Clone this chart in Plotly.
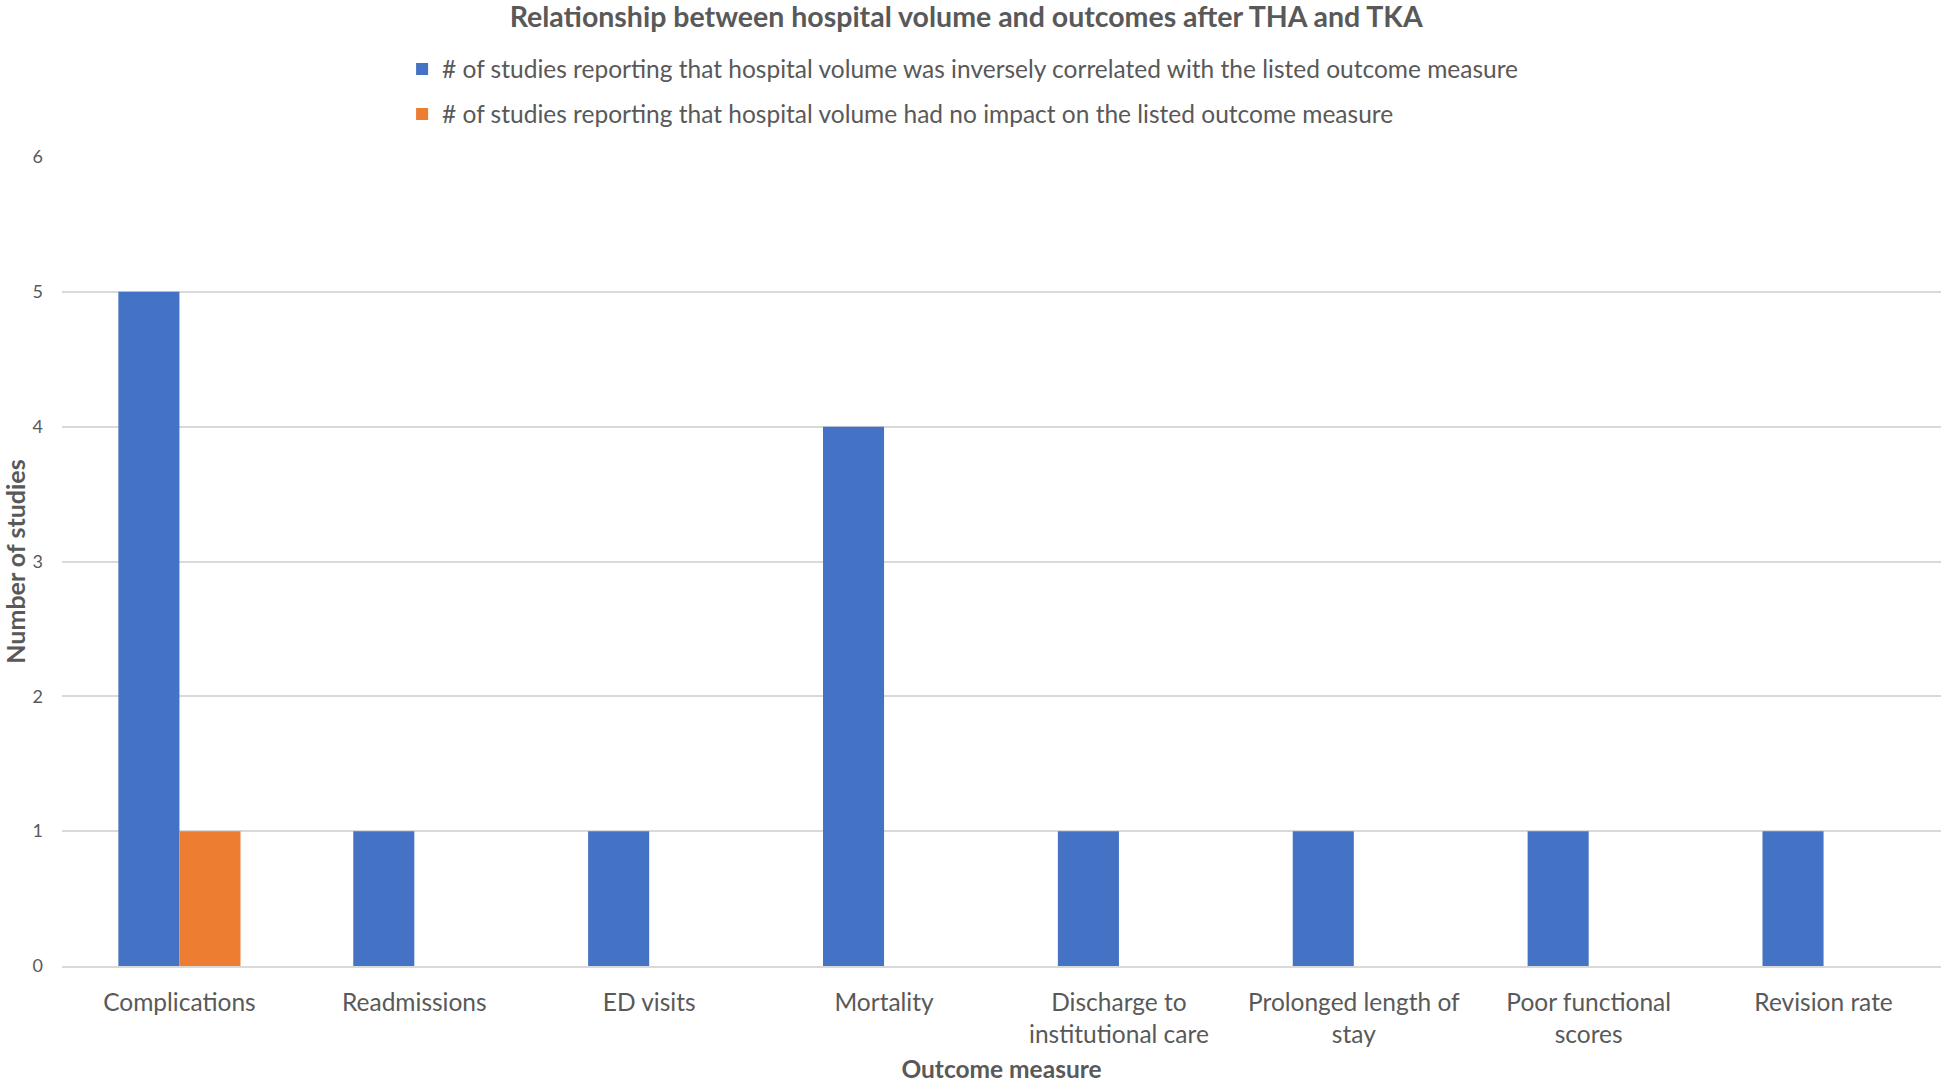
import plotly.graph_objects as go

categories = ["Complications", "Readmissions", "ED visits", "Mortality",
              "Discharge to<br>institutional care", "Prolonged length of<br>stay",
              "Poor functional<br>scores", "Revision rate"]
inverse_counts = [5, 1, 1, 4, 1, 1, 1, 1]
no_impact_counts = [1, 0, 0, 0, 0, 0, 0, 0]
y_ticks = [0, 1, 2, 3, 4, 5, 6]

name_inverse = "# of studies reporting that hospital volume was inversely correlated with the listed outcome measure"
name_noimpact = "# of studies reporting that hospital volume had no impact on the listed outcome measure"

FONT = "Lato, Open Sans, sans-serif"
TXT = "#595959"

fig = go.Figure()
fig.add_trace(go.Bar(x=categories, y=inverse_counts, name=name_inverse,
                     marker=dict(color="#4472C4", line=dict(width=0)), legend="legend"))
fig.add_trace(go.Bar(x=categories, y=no_impact_counts, name=name_noimpact,
                     marker=dict(color="#ED7D31", line=dict(width=0)), legend="legend2"))

W, H = 1944, 1084
L, R, T, B = 62, 3, 157, 118
PH = H - T - B

fig.update_layout(
    width=W, height=H,
    margin=dict(l=L, r=R, t=T, b=B, autoexpand=False),
    showlegend=True,
    paper_bgcolor="white", plot_bgcolor="white",
    barmode="group", bargap=0.48, bargroupgap=0,
    font=dict(family=FONT, color=TXT, size=24),
    title=dict(text="<b>Relationship between hospital volume and outcomes after THA and TKA</b>",
               x=0.497, xref="container", xanchor="center",
               y=1 - 17 / H, yref="container", yanchor="middle",
               font=dict(family=FONT, size=28.5, color=TXT)),
    legend=dict(x=0.181, y=1 + (T - 69) / PH, xanchor="left", yanchor="middle",
                font=dict(family=FONT, size=24.5, color=TXT), bgcolor="rgba(0,0,0,0)"),
    legend2=dict(x=0.181, y=1 + (T - 114) / PH, xanchor="left", yanchor="middle",
                 font=dict(family=FONT, size=24.5, color=TXT), bgcolor="rgba(0,0,0,0)"),
    xaxis=dict(showgrid=False, showline=True, linecolor="#D9D9D9", linewidth=1.5,
               ticks="", ticklabelstandoff=14, tickfont=dict(family=FONT, size=24.5, color=TXT),
               title=dict(text="<b>Outcome measure</b>", font=dict(family=FONT, size=24.5, color=TXT),
                          standoff=14)),
    yaxis=dict(range=[0, 6], tickvals=y_ticks, showgrid=True, gridcolor="#D9D9D9", gridwidth=1.5,
               zeroline=False, showline=False, ticks="", ticklabelstandoff=18,
               tickfont=dict(family=FONT, size=18, color=TXT),
               title=dict(text="<b>Number of studies</b>", font=dict(family=FONT, size=25, color=TXT),
                          standoff=6)),
)

fig.write_html("out.html", config={"displayModeBar": False},
               post_script="document.body.style.margin='0';")
